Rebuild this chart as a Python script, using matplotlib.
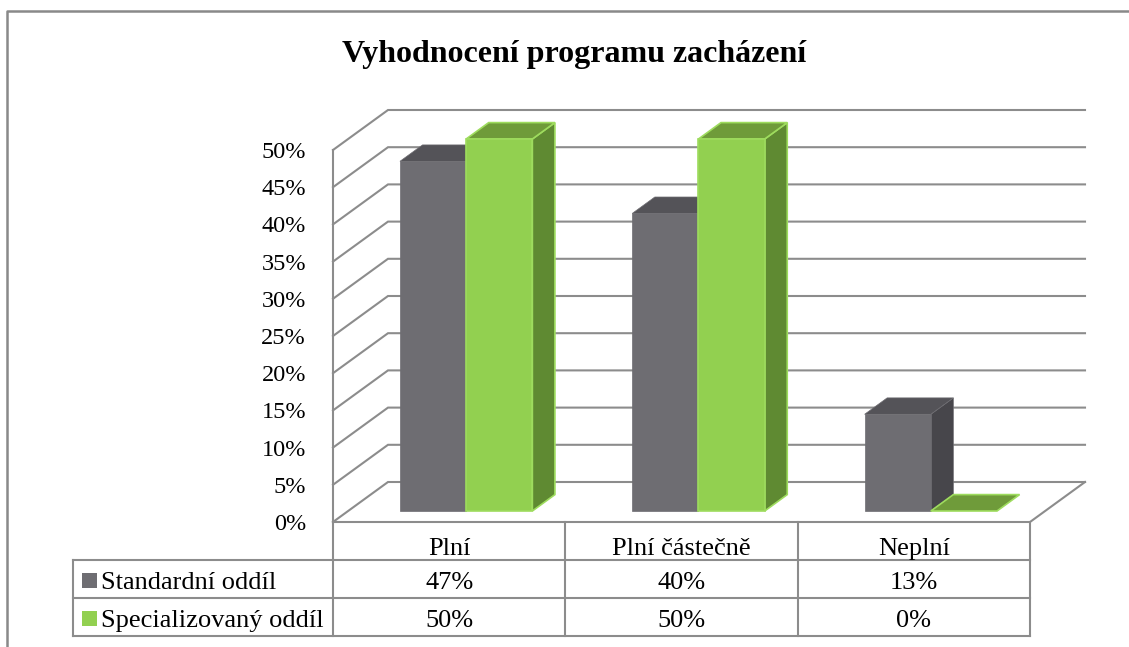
import matplotlib.pyplot as plt
import matplotlib.transforms as mtransforms
from matplotlib.patches import Polygon, Rectangle

# data
categories = ['Plní', 'Plní částečně', 'Neplní']
series_names = ['Standardní oddíl', 'Specializovaný oddíl']
standard = [47, 40, 13]
special = [50, 50, 0]
yticks = [0, 5, 10, 15, 20, 25, 30, 35, 40, 45, 50]
title = 'Vyhodnocení programu zacházení'

# colours: front, top, side, edge
grey_cols = ('#6e6d72', '#545358', '#47464b', '#6e6d72')
green_cols = ('#92d050', '#6f9b3a', '#5f8a32', '#9edc5e')
line_col = '#8c8c8c'

plt.rcParams['font.family'] = ['Liberation Serif', 'DejaVu Serif']

W, H = 1129, 647
fig = plt.figure(figsize=(W / 100, H / 100), dpi=100)

# plot box in pixels (front plane): x 0..3 categories, y 0..50 %
px0, px3 = 333, 1030
py0, py50 = 522, 150
sx = (px3 - px0) / 3.0
sy = (py0 - py50) / 50.0
ax = fig.add_axes([0, 0, 1, 1])
ax.set_xlim(-px0 / sx, (W - px0) / sx)
ax.set_ylim((py0 - H) / sy, py0 / sy)
ax.axis('off')

# oblique depth offset of the 3d box
DX = 55 / sx
DY = 40 / sy


def proj(x, y, d):
    return x + d * DX, y + d * DY


# pixel transform (from top-left) for layout things
pix = mtransforms.Affine2D().scale(1.0 / W, -1.0 / H).translate(0, 1) + fig.transFigure
colpix = mtransforms.blended_transform_factory(ax.transData, pix)

lw = 1.5
# walls / gridlines
for v in yticks:
    pts = [proj(0, v, 0), proj(0, v, 1), proj(3, v, 1)]
    ax.plot([p[0] for p in pts], [p[1] for p in pts], color=line_col, lw=lw,
            solid_joinstyle='miter', clip_on=False)
a, b = proj(0, 0, 0), proj(0, 50, 0)
ax.plot([a[0], b[0]], [a[1], b[1]], color=line_col, lw=lw, clip_on=False)
pts = [proj(0, 0, 0), proj(3, 0, 0), proj(3, 0, 1)]
ax.plot([p[0] for p in pts], [p[1] for p in pts], color=line_col, lw=lw, clip_on=False)

# bars
w = 0.285
gap = 0.223
d0 = 0.275
dd = 0.41
for i in range(len(categories)):
    for j, (vals, cols) in enumerate([(standard, grey_cols), (special, green_cols)]):
        x0 = i + gap + j * w
        x1 = x0 + w
        h = vals[i]
        front = [proj(x0, 0, d0), proj(x1, 0, d0), proj(x1, h, d0), proj(x0, h, d0)]
        side = [proj(x1, 0, d0), proj(x1, 0, d0 + dd), proj(x1, h, d0 + dd), proj(x1, h, d0)]
        top = [proj(x0, h, d0), proj(x1, h, d0), proj(x1, h, d0 + dd), proj(x0, h, d0 + dd)]
        elw = 1.2 if j == 1 else 0.5
        if h > 0:
            ax.add_patch(Polygon(side, closed=True, fc=cols[2], ec=cols[3], lw=elw, zorder=3))
        ax.add_patch(Polygon(top, closed=True, fc=cols[1], ec=cols[3], lw=elw, zorder=3))
        if h > 0:
            ax.add_patch(Polygon(front, closed=True, fc=cols[0], ec=cols[3], lw=elw, zorder=3))

# y tick labels
for v in yticks:
    tr = mtransforms.offset_copy(ax.transData, fig=fig, x=-27, y=-8, units='dots')
    ax.text(0, v, f'{v}%', transform=tr, ha='right', va='baseline', fontsize=17.5)

# data table
rows_y = [522, 560, 598, 636]
for y in rows_y[1:]:
    ax.plot([73, px3], [y, y], color=line_col, lw=lw, transform=pix, clip_on=False)
for x in range(4):
    ax.plot([x, x], [rows_y[0], rows_y[-1]], color=line_col, lw=lw, transform=colpix, clip_on=False)
ax.plot([73, 73], [rows_y[1], rows_y[-1]], color=line_col, lw=lw, transform=pix, clip_on=False)

for i, cat in enumerate(categories):
    ax.text(i + 0.5, 555, cat, transform=colpix, ha='center', va='baseline', fontsize=19)
    ax.text(i + 0.5, 589, f'{standard[i]}%', transform=colpix, ha='center', va='baseline', fontsize=19)
    ax.text(i + 0.5, 627, f'{special[i]}%', transform=colpix, ha='center', va='baseline', fontsize=19)

for k, (name, cols) in enumerate(zip(series_names, [grey_cols, green_cols])):
    yb = [589, 627][k]
    ax.add_patch(Rectangle((82, yb - 16), 15, 15, transform=pix, fc=cols[0], ec='none', clip_on=False))
    ax.text(101, yb, name, transform=pix, ha='left', va='baseline', fontsize=19)

# chart frame
ax.plot([7, 7, W], [H, 11, 11], color='#898989', lw=1.8, transform=pix, clip_on=False)

ax.text(574, 62, title, transform=pix, ha='center', va='baseline', fontsize=23, fontweight='bold')

fig.savefig('out.png', dpi=100)
